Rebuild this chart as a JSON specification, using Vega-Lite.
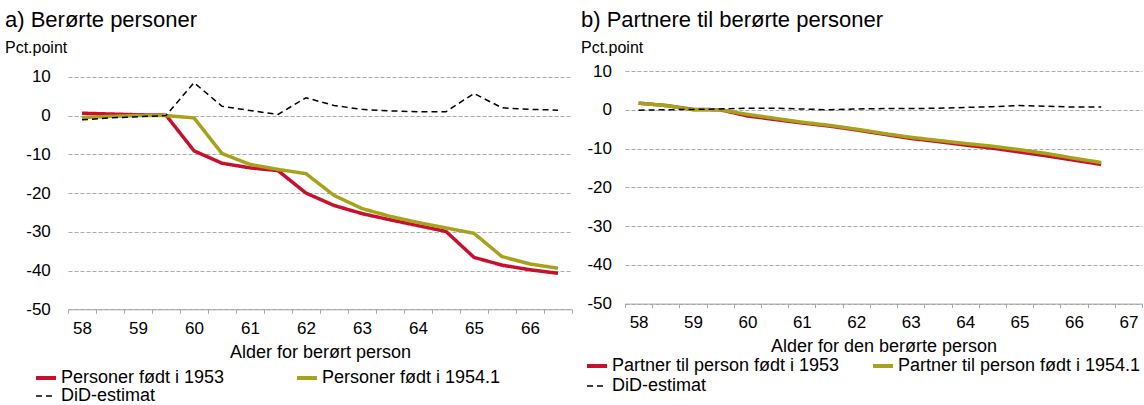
{
  "$schema": "https://vega.github.io/schema/vega-lite/v6.json",
  "padding": {"left": 5, "top": 8, "right": 0, "bottom": 0},
  "background": "white",
  "spacing": 8,
  "config": {
    "font": "Liberation Sans",
    "view": {"stroke": null},
    "title": {"anchor": "start", "frame": "group", "fontSize": 22, "fontWeight": "normal", "color": "black", "subtitleFontSize": 16, "subtitleColor": "black", "subtitlePadding": 8},
    "axis": {"labelColor": "black", "titleColor": "black", "labelFontSize": 17, "titleFontSize": 18, "titleFontWeight": "normal"},
    "legend": {"labelFontSize": 18, "labelColor": "black", "labelLimit": 0, "symbolType": "stroke", "symbolSize": 400, "symbolStrokeWidth": 4, "labelOffset": 6, "padding": 0, "rowPadding": 0, "direction": "horizontal"}
  },
  "resolve": {"scale": {"x": "independent", "y": "independent", "color": "independent", "strokeDash": "independent"}, "legend": {"color": "independent", "strokeDash": "independent"}},
  "datasets": {
    "a": [
      {"alder": 58, "serie": "Personer født i 1953", "verdi": 0.6},
      {"alder": 58.5, "serie": "Personer født i 1953", "verdi": 0.4},
      {"alder": 59, "serie": "Personer født i 1953", "verdi": 0.2},
      {"alder": 59.5, "serie": "Personer født i 1953", "verdi": 0.1},
      {"alder": 60, "serie": "Personer født i 1953", "verdi": -9.1},
      {"alder": 60.5, "serie": "Personer født i 1953", "verdi": -12.3},
      {"alder": 61, "serie": "Personer født i 1953", "verdi": -13.5},
      {"alder": 61.5, "serie": "Personer født i 1953", "verdi": -14.2},
      {"alder": 62, "serie": "Personer født i 1953", "verdi": -20.0},
      {"alder": 62.5, "serie": "Personer født i 1953", "verdi": -23.2},
      {"alder": 63, "serie": "Personer født i 1953", "verdi": -25.3},
      {"alder": 63.5, "serie": "Personer født i 1953", "verdi": -26.9},
      {"alder": 64, "serie": "Personer født i 1953", "verdi": -28.4},
      {"alder": 64.5, "serie": "Personer født i 1953", "verdi": -29.9},
      {"alder": 65, "serie": "Personer født i 1953", "verdi": -36.6},
      {"alder": 65.5, "serie": "Personer født i 1953", "verdi": -38.6},
      {"alder": 66, "serie": "Personer født i 1953", "verdi": -39.8},
      {"alder": 66.5, "serie": "Personer født i 1953", "verdi": -40.7},
      {"alder": 58, "serie": "Personer født i 1954.1", "verdi": -0.5},
      {"alder": 58.5, "serie": "Personer født i 1954.1", "verdi": -0.2},
      {"alder": 59, "serie": "Personer født i 1954.1", "verdi": 0.0},
      {"alder": 59.5, "serie": "Personer født i 1954.1", "verdi": 0.0},
      {"alder": 60, "serie": "Personer født i 1954.1", "verdi": -0.6},
      {"alder": 60.5, "serie": "Personer født i 1954.1", "verdi": -9.8},
      {"alder": 61, "serie": "Personer født i 1954.1", "verdi": -12.6},
      {"alder": 61.5, "serie": "Personer født i 1954.1", "verdi": -13.9},
      {"alder": 62, "serie": "Personer født i 1954.1", "verdi": -15.0},
      {"alder": 62.5, "serie": "Personer født i 1954.1", "verdi": -20.6},
      {"alder": 63, "serie": "Personer født i 1954.1", "verdi": -24.0},
      {"alder": 63.5, "serie": "Personer født i 1954.1", "verdi": -26.0},
      {"alder": 64, "serie": "Personer født i 1954.1", "verdi": -27.6},
      {"alder": 64.5, "serie": "Personer født i 1954.1", "verdi": -29.0},
      {"alder": 65, "serie": "Personer født i 1954.1", "verdi": -30.4},
      {"alder": 65.5, "serie": "Personer født i 1954.1", "verdi": -36.4},
      {"alder": 66, "serie": "Personer født i 1954.1", "verdi": -38.3},
      {"alder": 66.5, "serie": "Personer født i 1954.1", "verdi": -39.4},
      {"alder": 58, "serie": "DiD-estimat", "verdi": -1.1},
      {"alder": 58.5, "serie": "DiD-estimat", "verdi": -0.6},
      {"alder": 59, "serie": "DiD-estimat", "verdi": -0.3},
      {"alder": 59.5, "serie": "DiD-estimat", "verdi": 0.0},
      {"alder": 60, "serie": "DiD-estimat", "verdi": 8.5},
      {"alder": 60.5, "serie": "DiD-estimat", "verdi": 2.4},
      {"alder": 61, "serie": "DiD-estimat", "verdi": 1.3},
      {"alder": 61.5, "serie": "DiD-estimat", "verdi": 0.3},
      {"alder": 62, "serie": "DiD-estimat", "verdi": 4.6},
      {"alder": 62.5, "serie": "DiD-estimat", "verdi": 2.6},
      {"alder": 63, "serie": "DiD-estimat", "verdi": 1.6},
      {"alder": 63.5, "serie": "DiD-estimat", "verdi": 1.2},
      {"alder": 64, "serie": "DiD-estimat", "verdi": 1.0},
      {"alder": 64.5, "serie": "DiD-estimat", "verdi": 1.0},
      {"alder": 65, "serie": "DiD-estimat", "verdi": 5.7},
      {"alder": 65.5, "serie": "DiD-estimat", "verdi": 2.0},
      {"alder": 66, "serie": "DiD-estimat", "verdi": 1.6},
      {"alder": 66.5, "serie": "DiD-estimat", "verdi": 1.4}
    ],
    "b": [
      {"alder": 58, "serie": "Partner til person født i 1953", "verdi": 1.7},
      {"alder": 58.5, "serie": "Partner til person født i 1953", "verdi": 1.1},
      {"alder": 59, "serie": "Partner til person født i 1953", "verdi": 0.1},
      {"alder": 59.5, "serie": "Partner til person født i 1953", "verdi": 0.0},
      {"alder": 60, "serie": "Partner til person født i 1953", "verdi": -1.6},
      {"alder": 60.5, "serie": "Partner til person født i 1953", "verdi": -2.5},
      {"alder": 61, "serie": "Partner til person født i 1953", "verdi": -3.4},
      {"alder": 61.5, "serie": "Partner til person født i 1953", "verdi": -4.2},
      {"alder": 62, "serie": "Partner til person født i 1953", "verdi": -5.2},
      {"alder": 62.5, "serie": "Partner til person født i 1953", "verdi": -6.3},
      {"alder": 63, "serie": "Partner til person født i 1953", "verdi": -7.4},
      {"alder": 63.5, "serie": "Partner til person født i 1953", "verdi": -8.2},
      {"alder": 64, "serie": "Partner til person født i 1953", "verdi": -9.1},
      {"alder": 64.5, "serie": "Partner til person født i 1953", "verdi": -9.9},
      {"alder": 65, "serie": "Partner til person født i 1953", "verdi": -10.9},
      {"alder": 65.5, "serie": "Partner til person født i 1953", "verdi": -11.9},
      {"alder": 66, "serie": "Partner til person født i 1953", "verdi": -13.0},
      {"alder": 66.5, "serie": "Partner til person født i 1953", "verdi": -14.1},
      {"alder": 58, "serie": "Partner til person født i 1954.1", "verdi": 1.7},
      {"alder": 58.5, "serie": "Partner til person født i 1954.1", "verdi": 1.1},
      {"alder": 59, "serie": "Partner til person født i 1954.1", "verdi": 0.0},
      {"alder": 59.5, "serie": "Partner til person født i 1954.1", "verdi": 0.0},
      {"alder": 60, "serie": "Partner til person født i 1954.1", "verdi": -1.2},
      {"alder": 60.5, "serie": "Partner til person født i 1954.1", "verdi": -2.2},
      {"alder": 61, "serie": "Partner til person født i 1954.1", "verdi": -3.2},
      {"alder": 61.5, "serie": "Partner til person født i 1954.1", "verdi": -4.0},
      {"alder": 62, "serie": "Partner til person født i 1954.1", "verdi": -5.0},
      {"alder": 62.5, "serie": "Partner til person født i 1954.1", "verdi": -6.1},
      {"alder": 63, "serie": "Partner til person født i 1954.1", "verdi": -7.1},
      {"alder": 63.5, "serie": "Partner til person født i 1954.1", "verdi": -7.9},
      {"alder": 64, "serie": "Partner til person født i 1954.1", "verdi": -8.7},
      {"alder": 64.5, "serie": "Partner til person født i 1954.1", "verdi": -9.4},
      {"alder": 65, "serie": "Partner til person født i 1954.1", "verdi": -10.3},
      {"alder": 65.5, "serie": "Partner til person født i 1954.1", "verdi": -11.3},
      {"alder": 66, "serie": "Partner til person født i 1954.1", "verdi": -12.5},
      {"alder": 66.5, "serie": "Partner til person født i 1954.1", "verdi": -13.6},
      {"alder": 58, "serie": "DiD-estimat", "verdi": -0.1},
      {"alder": 58.5, "serie": "DiD-estimat", "verdi": 0.0},
      {"alder": 59, "serie": "DiD-estimat", "verdi": 0.1},
      {"alder": 59.5, "serie": "DiD-estimat", "verdi": 0.2},
      {"alder": 60, "serie": "DiD-estimat", "verdi": 0.4},
      {"alder": 60.5, "serie": "DiD-estimat", "verdi": 0.4},
      {"alder": 61, "serie": "DiD-estimat", "verdi": 0.2},
      {"alder": 61.5, "serie": "DiD-estimat", "verdi": 0.0},
      {"alder": 62, "serie": "DiD-estimat", "verdi": 0.2},
      {"alder": 62.5, "serie": "DiD-estimat", "verdi": 0.3},
      {"alder": 63, "serie": "DiD-estimat", "verdi": 0.3},
      {"alder": 63.5, "serie": "DiD-estimat", "verdi": 0.4},
      {"alder": 64, "serie": "DiD-estimat", "verdi": 0.6},
      {"alder": 64.5, "serie": "DiD-estimat", "verdi": 0.8},
      {"alder": 65, "serie": "DiD-estimat", "verdi": 1.1},
      {"alder": 65.5, "serie": "DiD-estimat", "verdi": 0.9},
      {"alder": 66, "serie": "DiD-estimat", "verdi": 0.7},
      {"alder": 66.5, "serie": "DiD-estimat", "verdi": 0.7}
    ]
  },
  "hconcat": [
    {
      "width": 504,
      "height": 238.3,
      "title": {"text": "a) Berørte personer", "subtitle": "Pct.point", "dx": -63, "offset": 11},
      "data": {"name": "a"},
      "encoding": {
        "y": {"field": "verdi", "type": "quantitative",
          "scale": {"domain": [-50, 11.5], "nice": false, "zero": false},
          "axis": {"title": null, "values": [-50, -40, -30, -20, -10, 0, 10], "labelExpr": "'' + datum.value",
            "domain": false, "ticks": false, "labelPadding": 17.7,
            "grid": true, "gridColor": "#ABABAB", "gridDash": [4, 2], "gridWidth": 1}},
        "color": {"field": "serie", "type": "nominal",
          "scale": {"domain": ["Personer født i 1953", "Personer født i 1954.1", "DiD-estimat"], "range": ["#C8102E", "#A6A21C", "#000000"]},
          "legend": {"title": null, "orient": "none", "legendX": -31, "legendY": 298, "columns": 2, "columnPadding": 64,
            "encode": {"symbols": {"update": {"strokeWidth": {"signal": "datum.value === 'DiD-estimat' ? 1.5 : 4"}}}}}},
        "strokeDash": {"field": "serie", "type": "nominal",
          "scale": {"domain": ["Personer født i 1953", "Personer født i 1954.1", "DiD-estimat"], "range": [[1, 0], [1, 0], [6, 4]]},
          "legend": {"title": null, "orient": "none", "legendX": -31, "legendY": 298, "columns": 2, "columnPadding": 64,
            "encode": {"symbols": {"update": {"strokeWidth": {"signal": "datum.value === 'DiD-estimat' ? 1.5 : 4"}}}}}}
      },
      "resolve": {"axis": {"x": "independent"}},
      "layer": [
        {"transform": [{"filter": "datum.serie !== 'DiD-estimat'"}], "mark": {"type": "line", "strokeWidth": 3.5},
          "encoding": {"x": {"field": "alder", "type": "quantitative",
            "scale": {"domain": [57.75, 66.75], "nice": false, "zero": false},
            "axis": {"orient": "bottom", "title": null, "values": [57.75, 58.25, 58.75, 59.25, 59.75, 60.25, 60.75, 61.25, 61.75, 62.25, 62.75, 63.25, 63.75, 64.25, 64.75, 65.25, 65.75, 66.25, 66.75],
              "labels": false, "grid": false, "domainColor": "#A6A6A6", "tickColor": "#A6A6A6", "tickSize": 4}}}},
        {"transform": [{"filter": "datum.serie === 'DiD-estimat'"}], "mark": {"type": "line", "strokeWidth": 1.5},
          "encoding": {"x": {"field": "alder", "type": "quantitative",
            "scale": {"domain": [57.75, 66.75], "nice": false, "zero": false},
            "axis": {"orient": "bottom", "title": "Alder for berørt person", "values": [58, 59, 60, 61, 62, 63, 64, 65, 66], "format": "d",
              "labelFlush": false, "labelOverlap": false, "labelBound": false, "domain": false, "ticks": false, "tickSize": 0,
              "grid": false, "labelPadding": 11, "titlePadding": 7}}}}
      ]
    },
    {
      "width": 517,
      "height": 232.6,
      "title": {"text": "b) Partnere til berørte personer", "subtitle": "Pct.point", "dx": -44, "offset": 5.2},
      "data": {"name": "b"},
      "encoding": {
        "y": {"field": "verdi", "type": "quantitative",
          "scale": {"domain": [-50, 10], "nice": false, "zero": false},
          "axis": {"title": null, "values": [-50, -40, -30, -20, -10, 0, 10], "labelExpr": "'' + datum.value",
            "domain": false, "ticks": false, "labelPadding": 13.5,
            "grid": true, "gridColor": "#ABABAB", "gridDash": [4, 2], "gridWidth": 1}},
        "color": {"field": "serie", "type": "nominal",
          "scale": {"domain": ["Partner til person født i 1953", "Partner til person født i 1954.1", "DiD-estimat"], "range": ["#C8102E", "#A6A21C", "#000000"]},
          "legend": {"title": null, "orient": "none", "legendX": -37, "legendY": 286, "columns": 2, "columnPadding": 25, "rowPadding": 2,
            "encode": {"symbols": {"update": {"strokeWidth": {"signal": "datum.value === 'DiD-estimat' ? 1.5 : 4"}}}}}},
        "strokeDash": {"field": "serie", "type": "nominal",
          "scale": {"domain": ["Partner til person født i 1953", "Partner til person født i 1954.1", "DiD-estimat"], "range": [[1, 0], [1, 0], [6, 4]]},
          "legend": {"title": null, "orient": "none", "legendX": -37, "legendY": 286, "columns": 2, "columnPadding": 25, "rowPadding": 2,
            "encode": {"symbols": {"update": {"strokeWidth": {"signal": "datum.value === 'DiD-estimat' ? 1.5 : 4"}}}}}}
      },
      "resolve": {"axis": {"x": "independent"}},
      "layer": [
        {"transform": [{"filter": "datum.serie !== 'DiD-estimat'"}], "mark": {"type": "line", "strokeWidth": 3.5},
          "encoding": {"x": {"field": "alder", "type": "quantitative",
            "scale": {"domain": [57.75, 67.25], "nice": false, "zero": false},
            "axis": {"orient": "bottom", "title": null, "values": [57.75, 58.25, 58.75, 59.25, 59.75, 60.25, 60.75, 61.25, 61.75, 62.25, 62.75, 63.25, 63.75, 64.25, 64.75, 65.25, 65.75, 66.25, 66.75, 67.25],
              "labels": false, "grid": false, "domainColor": "#A6A6A6", "tickColor": "#A6A6A6", "tickSize": 4}}}},
        {"transform": [{"filter": "datum.serie === 'DiD-estimat'"}], "mark": {"type": "line", "strokeWidth": 1.5},
          "encoding": {"x": {"field": "alder", "type": "quantitative",
            "scale": {"domain": [57.75, 67.25], "nice": false, "zero": false},
            "axis": {"orient": "bottom", "title": "Alder for den berørte person", "values": [58, 59, 60, 61, 62, 63, 64, 65, 66, 67], "format": "d",
              "labelFlush": false, "labelOverlap": false, "labelBound": false, "domain": false, "ticks": false, "tickSize": 0,
              "grid": false, "labelPadding": 11, "titlePadding": 7}}}}
      ]
    }
  ]
}
